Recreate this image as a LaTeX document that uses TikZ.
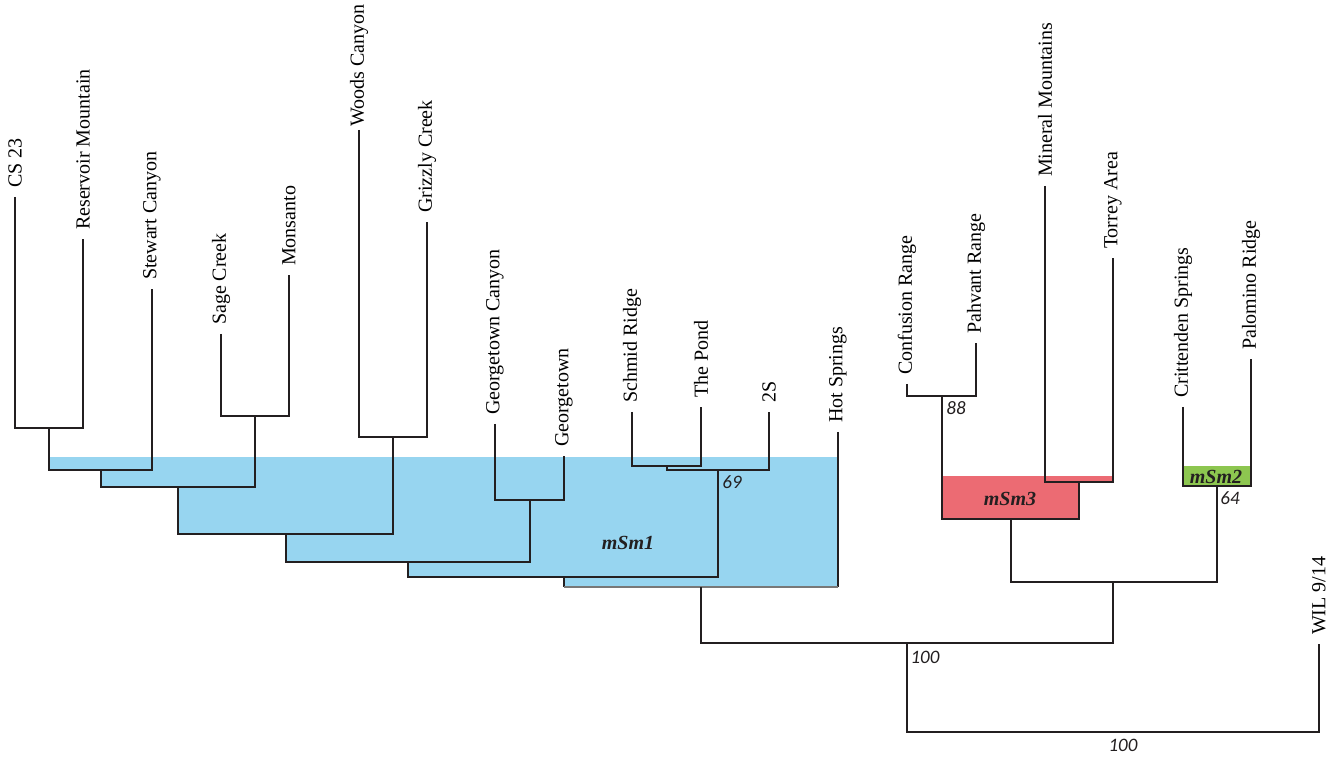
\documentclass[tikz,border=0pt]{standalone}
\usepackage{fontspec}
\setmainfont{Liberation Serif}
\newfontfamily\bootfont{Carlito}
\definecolor{branch}{HTML}{231F20}
\definecolor{msm blue}{RGB}{151,213,240}
\definecolor{msm red}{RGB}{236,107,115}
\definecolor{msm green}{RGB}{141,198,80}
\definecolor{bar gray}{RGB}{120,120,120}

\begin{document}
\begin{tikzpicture}[x=0.5pt, y=-0.5pt, line width=1.1pt, draw=branch,
  leaf/.style={rotate=90, anchor=west, inner xsep=4pt, inner ysep=0pt, font=\fontsize{10}{12}\selectfont},
  boot/.style={inner sep=0pt, font=\bootfont\itshape\fontsize{9.5}{11}\selectfont, text=branch},
  clade/.style={inner sep=0pt, font=\fontsize{10}{12}\selectfont\bfseries\itshape, text=branch}]
  \useasboundingbox (0,0) rectangle (1342,758);
  \fill [msm blue] (49,457) -| (838,587) -| (564,577) -| (408,562) -| (286,534) -| (178,487) -| (101,470) -- (49,470) -- cycle;
  \fill [msm red] (942,476) -| (1113,482) -| (1079,519) -- (942,519) -- cycle;
  \fill [msm green] (1183,466) rectangle (1251,486);
  \node (cs23) [leaf] at (15,197) {CS 23};
  \node (res) [leaf] at (83,239) {Reservoir Mountain};
  \node (stew) [leaf] at (152,289) {Stewart Canyon};
  \node (sage) [leaf] at (221,334) {Sage Creek};
  \node (mons) [leaf] at (289,275) {Monsanto};
  \node (woods) [leaf, inner xsep=1pt] at (359,130) {Woods Canyon};
  \node (griz) [leaf] at (427,222) {Grizzly Creek};
  \node (gcan) [leaf] at (495,424) {Georgetown Canyon};
  \node (gtown) [leaf] at (564,456) {Georgetown};
  \node (schmid) [leaf] at (632,412) {Schmid Ridge};
  \node (pond) [leaf] at (701,407) {The Pond};
  \node (twos) [leaf] at (769,412) {2S};
  \node (hot) [leaf] at (838,432) {Hot Springs};
  \node (conf) [leaf] at (907,384) {Confusion Range};
  \node (pahv) [leaf] at (976,343) {Pahvant Range};
  \node (mineral) [leaf] at (1045,186) {Mineral Mountains};
  \node (torrey) [leaf] at (1113,258) {Torrey Area};
  \node (crit) [leaf] at (1183,407) {Crittenden Springs};
  \node (palo) [leaf] at (1251,359) {Palomino Ridge};
  \node (wil) [leaf] at (1319,644) {WIL 9/14};
  \coordinate (n1) at (49,428);   \coordinate (n2) at (101,470);  \coordinate (n3) at (255,416);
  \coordinate (n4) at (178,487);  \coordinate (n5) at (393,437);  \coordinate (n6) at (286,534);
  \coordinate (n7) at (530,500);  \coordinate (n8) at (408,562);  \coordinate (n9) at (667,466);
  \coordinate (n10) at (718,470); \coordinate (n11) at (564,577); \coordinate (n12) at (701,587);
  \coordinate (n13) at (942,396); \coordinate (n14) at (1079,482); \coordinate (n15) at (1011,519);
  \coordinate (n16) at (1217,486); \coordinate (n17) at (1113,582); \coordinate (n18) at (907,643);
  \coordinate (n19) at (1113,732);
  \draw (cs23.west) |- (n1) -| (res.west) (n1) |- (n2) -| (stew.west);
  \draw (sage.west) |- (n3) -| (mons.west) (n2) |- (n4) -| (n3);
  \draw (woods.west) |- (n5) -| (griz.west) (n4) |- (n6) -| (n5);
  \draw (gcan.west) |- (n7) -| (gtown.west) (n6) |- (n8) -| (n7);
  \draw (schmid.west) |- (n9) -| (pond.west) (n9) |- (n10) -| (twos.west) (n8) |- (n11) -| (n10);
  \draw (n11) -- (n11 |- n12) (hot.west) -- (hot.west |- n12);
  \draw [bar gray] (n11 |- n12) -- (hot.west |- n12);
  \draw (conf.west) |- (n13) -| (pahv.west) (mineral.west) |- (n14) -| (torrey.west) (n13) |- (n15) -| (n14);
  \draw (crit.west) |- (n16) -| (palo.west) (n15) |- (n17) -| (n16);
  \draw (n12) |- (n18) -| (n17) (n18) |- (n19) -| (wil.west);
  \node (m1) [clade] at (628,543) {mSm1};
  \node (m3) [clade] at (1010,499) {mSm3};
  \node (m2) [clade] at (1216,477) {mSm2};
  \node (b69) [boot] at (732,482) {69};
  \node (b88) [boot] at (956,408) {88};
  \node (b64) [boot] at (1230,498) {64};
  \node (b100a) [boot] at (925,657) {100};
  \node (b100b) [boot] at (1123,745) {100};
\end{tikzpicture}
\end{document}
